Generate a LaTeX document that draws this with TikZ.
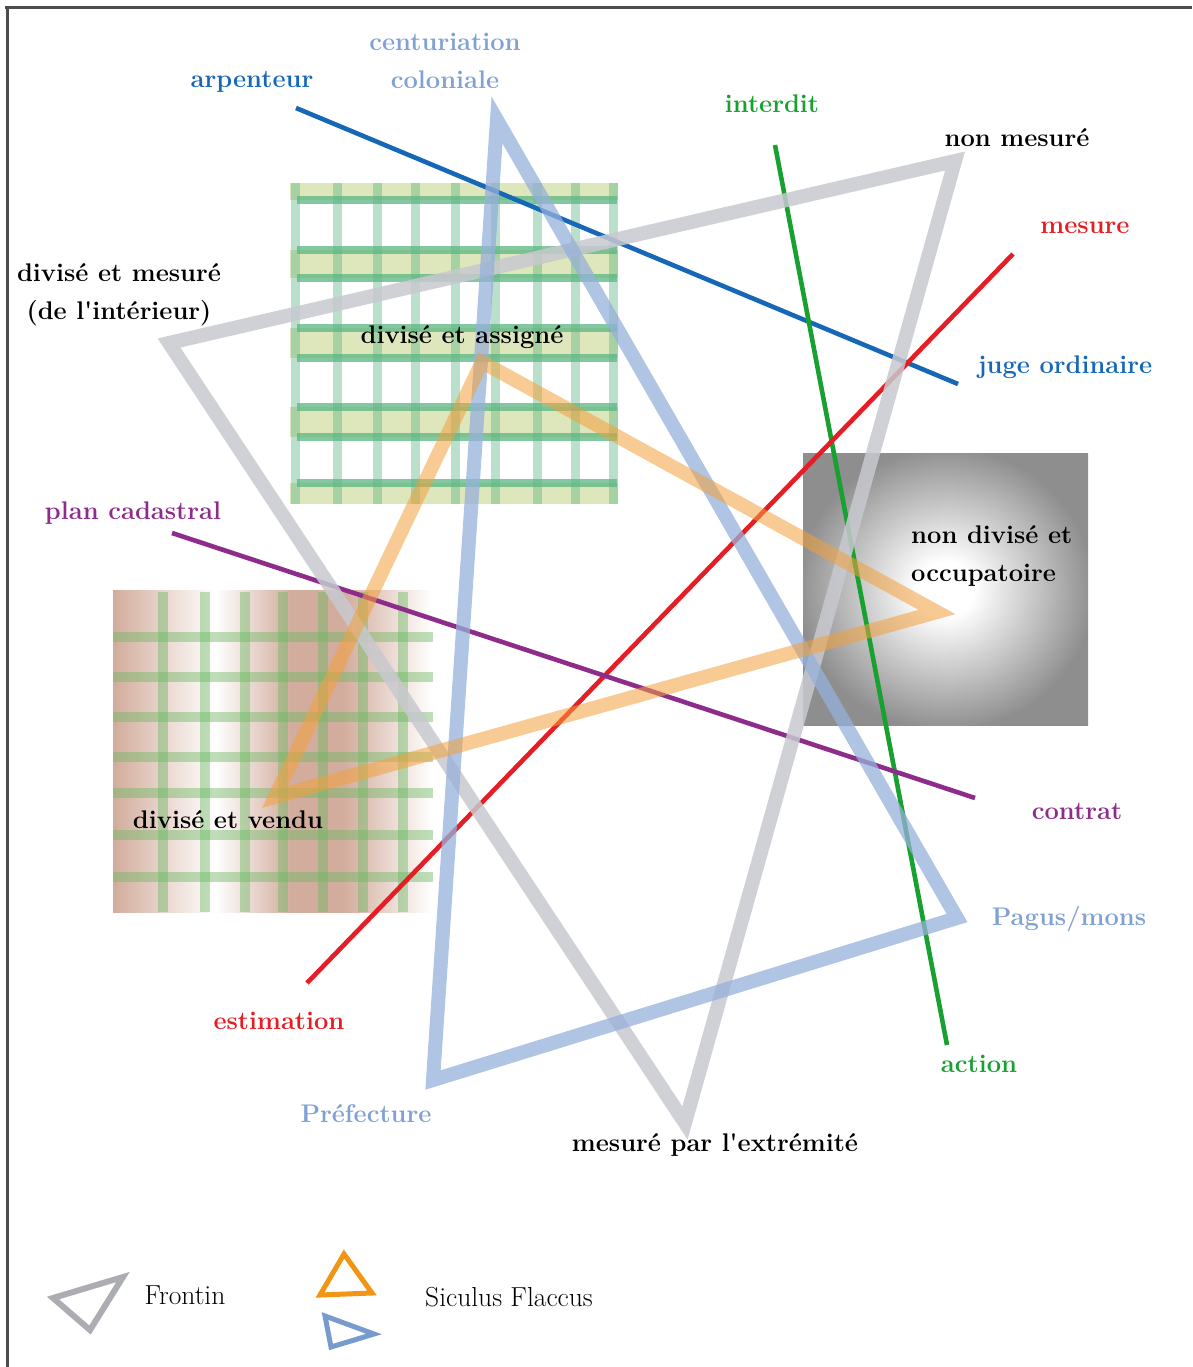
\documentclass[tikz,border=0pt]{standalone}
\usepackage{tikz}
\usetikzlibrary{positioning}
\definecolor{agBlue}{RGB}{22,104,183}
\definecolor{agLight}{RGB}{128,161,210}
\definecolor{agGreen}{RGB}{24,160,48}
\definecolor{agRed}{RGB}{228,30,36}
\definecolor{agPurple}{RGB}{142,44,140}
\definecolor{triGray}{RGB}{200,201,207}
\definecolor{triBlue}{RGB}{150,176,218}
\definecolor{triOrange}{RGB}{243,160,60}
\definecolor{gridGreen}{RGB}{90,182,130}
\definecolor{gridLime}{RGB}{222,230,187}
\definecolor{gridVGreen}{RGB}{110,185,100}
\definecolor{gridBrown}{RGB}{210,172,156}
\definecolor{boxGray}{RGB}{142,142,142}
\definecolor{legGray}{RGB}{172,173,178}
\definecolor{legOrange}{RGB}{240,150,20}
\definecolor{legBlue}{RGB}{120,155,205}
\pgfdeclareradialshading{boxglow}{\pgfpoint{0bp}{0bp}}{color(0bp)=(white); color(5bp)=(white); color(26bp)=(boxGray); color(50bp)=(boxGray)}
\pgfdeclarehorizontalshading{vendu}{100bp}{color(0bp)=(gridBrown); color(25bp)=(gridBrown); color(41bp)=(white); color(53bp)=(gridBrown); color(61bp)=(gridBrown); color(75bp)=(white); color(100bp)=(white)}

\begin{document}
\begin{tikzpicture}[x=1pt, y=-1pt,
  lbl/.style={font=\fontsize{25.5}{38}\selectfont\bfseries, inner sep=0pt, align=center},
  leg/.style={font=\fontsize{27.5}{32}\selectfont, inner sep=0pt},
  cutline/.style={line width=4.6pt},
  tri/.style={line width=14pt, line join=miter, miter limit=20},
  mini/.style={line width=5pt, line join=miter, miter limit=20}]
\useasboundingbox (0,0) rectangle (1192,1367);
% frame
\draw[line width=3pt, black!70] (5,8) -- (1192,8);
\draw[line width=3pt, black!70] (7,7) -- (7,1367);
% divisé et assigné
\begin{scope}
  \foreach \y/\h in {183/17,250/28,328/30,407/30,483/21}
    \fill[gridLime] (290,\y) rectangle +(328,\h);
  \foreach \x in {295,337,377,415,455,495,537,575,613}
    \draw[gridGreen, opacity=0.42, line width=9pt] (\x,183) -- (\x,504);
  \foreach \y in {200,250,278,328,358,407,437,483}
    \draw[gridGreen, opacity=0.75, line width=8pt] (297,\y) -- (617,\y);
\end{scope}
% divisé et vendu
\begin{scope}
  \shade[shading=vendu] (113,590) rectangle (432,912);
  \foreach \x in {163,205,245,283,323,363,403}
    \draw[gridVGreen, opacity=0.45, line width=10pt] (\x,592) -- (\x,912);
  \foreach \y in {637,677,717,757,793,835,877}
    \draw[gridVGreen, opacity=0.45, line width=10pt] (113,\y) -- (433,\y);
\end{scope}
% non divisé et occupatoire
\shade[shading=boxglow] (803,453) rectangle (1088,725);

% the four lines
\coordinate (arpA) at (296,108);  \coordinate (arpB) at (958,384);
\coordinate (intA) at (775,145);  \coordinate (intB) at (947,1045);
\coordinate (mesA) at (1013,254); \coordinate (mesB) at (307,983);
\coordinate (plaA) at (172,533);  \coordinate (plaB) at (975,798);
\draw[cutline, agBlue] (arpA) -- (arpB);
\draw[cutline, agGreen] (intA) -- (intB);
\draw[cutline, agRed] (mesA) -- (mesB);
\draw[cutline, agPurple] (plaA) -- (plaB);

% triangles
\coordinate (frL) at (169,343); \coordinate (frR) at (955,161); \coordinate (frB) at (685,1123);
\coordinate (ceT) at (497,120); \coordinate (ceL) at (433,1080); \coordinate (ceR) at (957,918);
\coordinate (sfT) at (482,362); \coordinate (sfR) at (937,612); \coordinate (sfL) at (275,797);
\draw[tri, triGray, opacity=0.85] (frL) -- (frR) -- (frB) -- cycle;
\draw[tri, triBlue, opacity=0.75] (ceT) -- (ceL) -- (ceR) -- cycle;
\draw[tri, triOrange, opacity=0.55] (sfT) -- (sfR) -- (sfL) -- cycle;

% labels
\node[lbl, agLight] (centur) at (445,61) {centuriation\\coloniale};
\node[lbl, agBlue] (arpent) at (252,82) {arpenteur};
\node[lbl, agGreen] (interd) at (772,104) {interdit};
\node[lbl] (nonmes) at (1017,138) {non mesuré};
\node[lbl, agRed] (mesure) at (1085,228) {mesure};
\node[lbl] (divmes) at (119,295) {divisé et mesuré\\(de l\textquotesingle intérieur)};
\node[lbl] (divass) at (462,337) {divisé et assigné};
\node[lbl, agBlue] (juge) at (1065,367) {juge ordinaire};
\node[lbl, agPurple] (plan) at (133,513) {plan cadastral};
\node[lbl, align=left, anchor=west] (nondiv) at (911,556) {non divisé et\\occupatoire};
\node[lbl, agPurple] (contrat) at (1077,811) {contrat};
\node[lbl] (divven) at (228,820) {divisé et vendu};
\node[lbl, agLight] (pagus) at (1069,919) {Pagus/mons};
\node[lbl, agRed] (estim) at (279,1021) {estimation};
\node[lbl, agGreen] (action) at (979,1064) {action};
\node[lbl, agLight] (prefec) at (366,1114) {Préfecture};
\node[lbl] (mesext) at (715,1145) {mesuré par l\textquotesingle extrémité};

% legend
\draw[mini, line width=6pt, legGray] (53,1298) -- (123,1277) -- (90,1330) -- cycle;
\node[leg] (frontin) at (185,1295) {Frontin};
\draw[mini, legOrange] (320,1295) -- (344,1254) -- (372,1293) -- cycle;
\draw[mini, legBlue] (325,1316) -- (374,1334) -- (331,1347) -- cycle;
\node[leg] (siculus) at (509,1297) {Siculus Flaccus};
\end{tikzpicture}
\end{document}
